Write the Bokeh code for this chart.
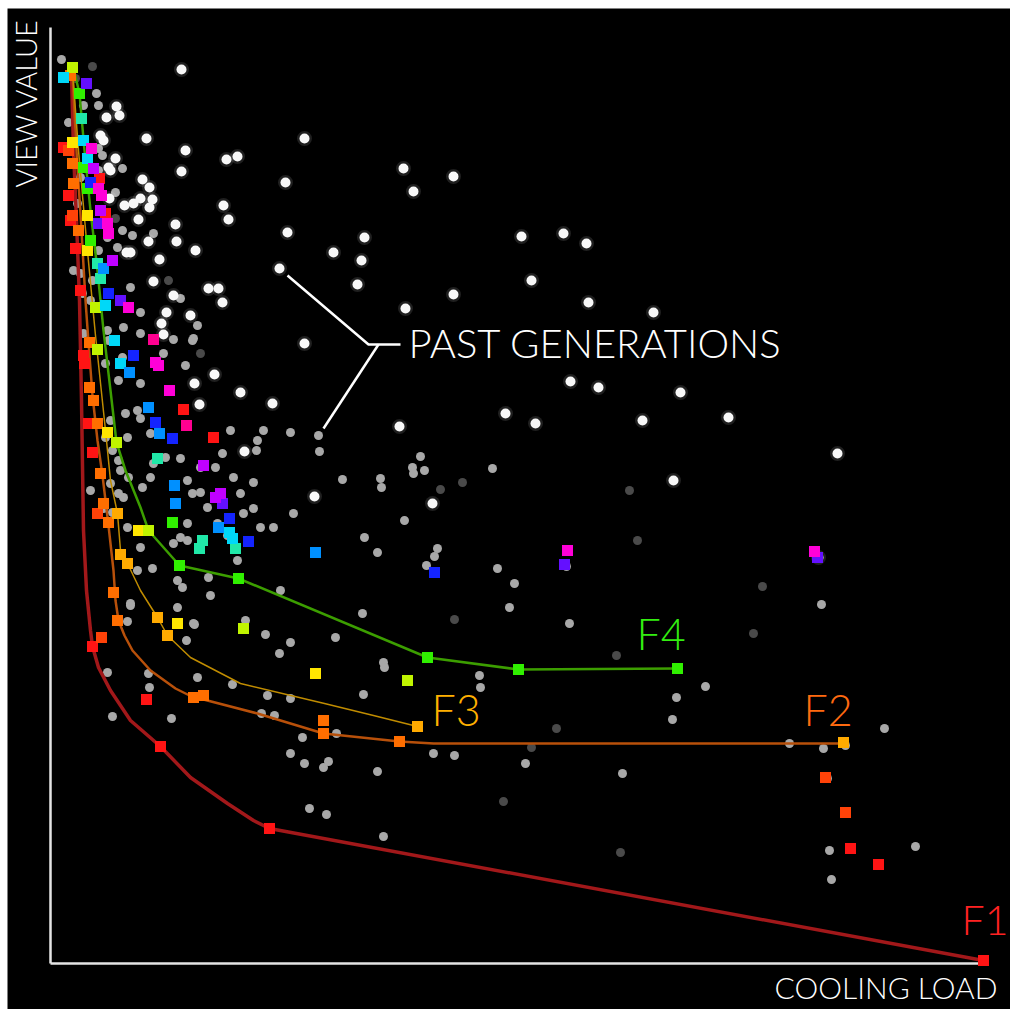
from bokeh.plotting import figure
from bokeh.models import Range1d, Label
from bokeh.embed import file_html
from bokeh.resources import INLINE

# ---------------------------------------------------------------------------
# Objective space: cooling load (to be minimised) vs view value (to be minimised)
# Units are arbitrary; both axes start at 0.
# ---------------------------------------------------------------------------

# Individuals from earlier generations (dominated solutions)
past_bright_load = [131, 96, 135, 131, 176, 187, 254, 235, 237, 229, 353, 363, 403, 314, 283, 311,
                    307, 471, 403, 355, 173, 178, 92, 99, 90, 102, 83, 99, 88, 125, 126, 98, 145,
                    109, 80, 103, 158, 168, 172, 123, 116, 140, 56, 66, 69, 50, 53, 65, 58, 74, 59,
                    60, 76, 111, 113, 513, 536, 481, 538, 603, 520, 548, 630, 678, 485, 455, 349,
                    254, 264, 787, 592, 623, 164, 144, 190, 222, 149, 194, 768, 382]
past_bright_view = [894, 825, 813, 792, 804, 807, 825, 781, 731, 695, 795, 772, 787, 726, 711, 703,
                    679, 727, 669, 655, 758, 744, 784, 776, 765, 764, 760, 756, 744, 739, 722, 722,
                    713, 704, 711, 682, 675, 675, 661, 668, 651, 648, 846, 857, 848, 828, 823, 805,
                    796, 758, 765, 793, 711, 640, 629, 730, 720, 683, 661, 651, 582, 576, 571, 546,
                    540, 550, 537, 620, 467, 510, 543, 483, 589, 580, 571, 560, 559, 512, 406, 460]

past_mid_load = [11, 46, 48, 18, 33, 48, 52, 48, 72, 65, 30, 27, 57, 72, 82, 103, 67, 48, 23, 30,
                 53, 80, 130, 40, 33, 57, 73, 90, 147, 90, 143, 32, 42, 58, 72, 113, 90, 68, 135,
                 142, 123, 55, 60, 75, 90, 100, 77, 87, 62, 68, 70, 60, 78, 92, 100, 103, 115,
                 130, 137, 150, 165, 183, 203, 150, 190, 142, 157, 137, 137, 123, 90, 193, 210,
                 167, 177, 130, 180, 172, 207, 206, 213, 240, 268, 269, 243, 223, 203, 127, 132,
                 158, 80, 87, 127, 143, 160, 195, 230, 187, 102, 73, 40, 53, 62, 55, 68, 77,
                 77, 144, 136, 215, 240, 229, 285, 312, 459, 57, 98, 99, 147, 182, 217, 240,
                 211, 224, 252, 286, 62, 121, 240, 254, 273, 278, 327, 333, 334, 313, 429, 430,
                 383, 404, 333, 259, 276, 370, 362, 363, 374, 442, 292, 330, 331, 354, 314, 327,
                 387, 384, 376, 447, 464, 519, 655, 626, 622, 834, 475, 739, 773, 795, 572,
                 779, 781, 777, 865, 516, 771, 80]
past_mid_view = [904, 870, 858, 841, 858, 815, 808, 793, 795, 771, 786, 760, 726, 733, 728, 730,
                 716, 713, 693, 690, 696, 676, 665, 663, 630, 633, 636, 651, 638, 630, 625, 670,
                 683, 623, 606, 610, 580, 583, 598, 623, 624, 600, 543, 550, 545, 530, 526, 553,
                 513, 503, 493, 480, 486, 476, 486, 500, 506, 505, 483, 496, 496, 486, 481, 471,
                 470, 470, 456, 440, 423, 420, 416, 450, 436, 440, 428, 426, 533, 510, 523, 513,
                 533, 531, 528, 512, 450, 436, 455, 383, 376, 386, 360, 393, 356, 340, 368, 343,
                 373, 403, 395, 466, 473, 455, 451, 526, 470, 436, 342, 339, 323, 329, 321, 310,
                 326, 350, 356, 291, 290, 276, 286, 279, 268, 265, 250, 248, 226, 230, 247, 245,
                 210, 200, 196, 202, 192, 301, 296, 269, 288, 276, 210, 208, 127, 155, 149, 507,
                 496, 490, 493, 495, 484, 485, 476, 443, 426, 411, 415, 407, 398, 395, 380, 340,
                 277, 266, 244, 235, 200, 220, 215, 218, 190, 113, 84, 185, 117, 397, 359, 358]

past_dim_load = [42, 118, 579, 587, 712, 703, 570, 453, 506, 481, 566, 404, 390, 412, 25, 150, 65]
past_dim_view = [897, 683, 473, 423, 377, 330, 111, 162, 235, 216, 308, 344, 474, 481, 885, 610, 745]

# Current population, coloured by non-dominated front rank
front_points = {
    "#ff1414": ([13, 18, 20, 25, 30, 33, 34, 38, 42, 49, 55, 133, 163, 96, 42, 110, 219, 800, 828, 933],
                [816, 768, 743, 715, 673, 608, 600, 540, 511, 785, 750, 554, 526, 264, 317, 217, 135, 115, 99, 3]),
    "#ff4208": ([18, 22, 47, 51, 775, 795],
                [813, 748, 450, 326, 186, 151]),
    "#ff6e00": ([20, 22, 23, 28, 39, 39, 43, 47, 50, 53, 58, 63, 67, 143, 153, 273, 273, 349],
                [888, 800, 780, 733, 621, 576, 563, 540, 490, 460, 441, 371, 343, 266, 268, 243, 230, 222]),
    "#ffaa00": ([67, 70, 77, 107, 117, 367, 793],
                [450, 409, 400, 346, 328, 237, 221]),
    "#ffe600": ([22, 37, 37, 57, 88, 127, 265],
                [821, 748, 713, 531, 433, 340, 290]),
    "#c0f400": ([22, 45, 47, 66, 98, 193, 357],
                [896, 656, 614, 521, 433, 335, 283]),
    "#30f000": ([29, 33, 37, 40, 122, 129, 188, 377, 468, 627],
                [870, 796, 775, 723, 441, 398, 385, 306, 294, 295]),
    "#20e8a8": ([31, 47, 50, 152, 149, 185, 107],
                [845, 700, 685, 423, 415, 415, 505]),
    "#00d8f8": ([13, 33, 37, 55, 64, 70, 179, 182],
                [886, 823, 805, 658, 623, 600, 431, 425]),
    "#0090ff": ([53, 79, 98, 109, 124, 125, 168, 265],
                [695, 591, 556, 530, 478, 460, 436, 411]),
    "#1424ff": ([40, 58, 83, 105, 122, 179, 198, 384],
                [781, 670, 608, 541, 525, 445, 422, 391]),
    "#6410ff": ([36, 48, 70, 172, 514, 767],
                [880, 740, 663, 460, 399, 406]),
    "#c000ff": ([43, 50, 62, 170, 165, 153],
                [795, 753, 703, 470, 466, 498]),
    "#ff00d8": ([41, 48, 51, 57, 58, 78, 105, 108, 119, 517, 764],
                [815, 775, 768, 740, 730, 656, 601, 598, 573, 413, 412]),
    "#ff0090": ([103, 136],
                [624, 538]),
}

# Pareto fronts traced through the first four ranks
f1_load = [21, 23, 26, 29, 31, 33, 36, 40, 42, 48, 60, 80, 110, 140, 177, 203, 219, 933]
f1_view = [891, 813, 743, 663, 563, 433, 373, 333, 317, 296, 273, 243, 217, 186, 160, 143, 135, 3]

f2_load = [22, 26, 31, 35, 38, 42, 47, 52, 58, 63, 65, 68, 74, 82, 100, 125, 143, 153, 207, 273, 349, 383, 793]
f2_view = [891, 813, 733, 663, 621, 568, 523, 488, 438, 393, 363, 343, 328, 313, 293, 275, 266, 264, 250, 230, 222, 220, 220]

f3_load = [22, 28, 36, 45, 55, 60, 67, 70, 77, 90, 107, 117, 140, 190, 274, 323, 367]
f3_view = [893, 813, 723, 628, 533, 483, 450, 413, 400, 373, 346, 328, 306, 280, 260, 248, 237]

f4_load = [23, 29, 34, 40, 47, 53, 60, 66, 75, 90, 98, 129, 188, 377, 468, 627]
f4_view = [895, 870, 813, 753, 693, 633, 573, 521, 493, 456, 433, 398, 385, 306, 294, 295]

front_labels = ["F1", "F2", "F3", "F4"]
front_label_load = [911, 753, 381, 586]
front_label_view = [44, 254, 254, 330]

# Leader lines for the "past generations" callout
callout_load = [[237, 318, 350], [328, 273]]
callout_view = [[688, 619, 619], [619, 535]]

FONT = "Lato Light, Lato"

p = figure(width=1010, height=1009, output_backend="svg", toolbar_location=None,
           x_range=Range1d(-43, 960), y_range=Range1d(-46, 955),
           x_axis_type=None, y_axis_type=None,
           min_border_left=7, min_border_top=8, min_border_right=0, min_border_bottom=0)
p.background_fill_color = "black"
p.border_fill_color = "white"
p.outline_line_color = None
p.grid.visible = False

# axes drawn as plain lines from the origin
p.line([0, 0], [0, 936], line_color="#e4e4e4", line_width=2.5)
p.line([0, 933], [0, 0], line_color="#e4e4e4", line_width=2.5)

# past generations
p.scatter(past_dim_load, past_dim_view, marker="circle", size=9, fill_color="#4a4a4a",
          line_color=None)
p.scatter(past_mid_load, past_mid_view, marker="circle", size=9, fill_color="#a8a8a8",
          line_color=None)
p.scatter(past_bright_load, past_bright_view, marker="circle", size=15, fill_color="white",
          fill_alpha=0.12, line_color=None)
p.scatter(past_bright_load, past_bright_view, marker="circle", size=10, fill_color="#f8f8f8",
          line_color=None)

# front curves
p.line(f1_load, f1_view, line_color="#a2181a", line_width=3.5, line_join="round")
p.line(f2_load, f2_view, line_color="#b8500a", line_width=2.5, line_join="round")
p.line(f3_load, f3_view, line_color="#c08c00", line_width=1.5, line_join="round")
p.line(f4_load, f4_view, line_color="#3c9e00", line_width=2.5, line_join="round")

# current population
for color, (xs, ys) in front_points.items():
    p.scatter(xs, ys, marker="square", size=11, fill_color=color, line_color=None)

# callout
for xs, ys in zip(callout_load, callout_view):
    p.line(xs, ys, line_color="white", line_width=2.5)
p.add_layout(Label(x=358, y=621, text="PAST GENERATIONS", text_color="white",
                   text_font=FONT, text_font_size="40px", text_baseline="alphabetic"))

label_colors = ["#ff2222", "#ff6a10", "#ffb000", "#33ee10"]
label_sizes = ["41px", "43px", "43px", "43px"]
for t, x, y, c, s in zip(front_labels, front_label_load, front_label_view, label_colors,
                         label_sizes):
    p.add_layout(Label(x=x, y=y, text=t, text_color=c, text_font=FONT,
                       text_font_size=s, text_baseline="alphabetic"))

# axis titles
p.add_layout(Label(x=947, y=-23, text="COOLING LOAD", text_color="white", text_font=FONT,
                   text_font_size="30px", text_align="right", text_baseline="alphabetic"))
p.add_layout(Label(x=-25, y=776, text="VIEW VALUE", text_color="white", text_font=FONT,
                   text_font_size="29px", angle=1.5708, text_align="left",
                   text_baseline="alphabetic"))

open("out.html", "w").write(file_html(p, INLINE))
